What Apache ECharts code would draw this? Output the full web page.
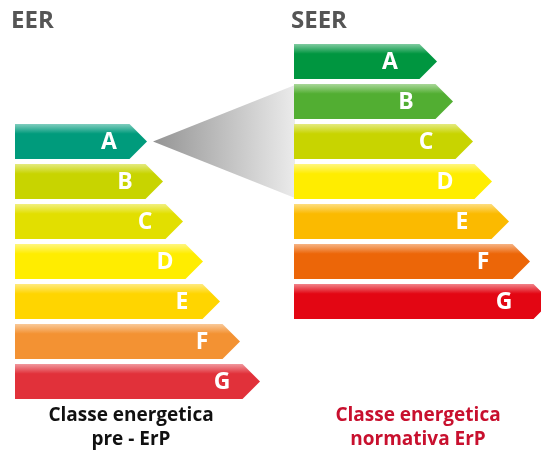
<!DOCTYPE html>
<html><head><meta charset="utf-8">
<script src="https://cdn.jsdelivr.net/npm/echarts@6/dist/echarts.min.js"></script>
<style>html,body{margin:0;padding:0;background:#fff}#c{width:541px;height:452px}</style>
</head><body><div id="c"></div>
<script>
var classes = ['A','B','C','D','E','F','G'];
var eerValues = [132, 148, 168, 188, 205, 225, 245];
var seerValues = [143, 159, 179, 198, 215, 236, 257];
var eerColors = ['#009b7c','#c8d400','#e2df00','#ffed00','#ffd500','#f39233','#e1313a'];
var seerColors = ['#009640','#52ae32','#c8d400','#ffed00','#fbba00','#ec6608','#e30613'];
var leftTitle = 'EER', rightTitle = 'SEER';
var leftCaption = ['Classe energetica','pre - ErP'];
var rightCaption = ['Classe energetica','normativa ErP'];

function mix(hex, t){
  var r=parseInt(hex.substr(1,2),16), g=parseInt(hex.substr(3,2),16), b=parseInt(hex.substr(5,2),16);
  r=Math.round(r+(255-r)*t); g=Math.round(g+(255-g)*t); b=Math.round(b+(255-b)*t);
  return 'rgb('+r+','+g+','+b+')';
}
function makeRender(colors, labelOffset){
  return function(params, api){
    var v = api.value(0), idx = api.value(1);
    var s = api.coord([0, idx]), e = api.coord([v, idx]);
    var h = api.size([0,1])[1]*0.875, half = h/2, cy = s[1];
    var be = e[0]-half;
    var c = colors[idx];
    return {type:'group', children:[
      {type:'polygon', shape:{points:[[s[0],cy-half],[be,cy-half],[e[0],cy],[be,cy+half],[s[0],cy+half]]},
       style:{fill:new echarts.graphic.LinearGradient(0,0,0,1,[{offset:0,color:mix(c,0.5)},{offset:0.28,color:c},{offset:1,color:c}])}},
      {type:'text', style:{text:classes[idx], x:e[0]-labelOffset, y:cy+1, textAlign:'center', textVerticalAlign:'middle',
        fill:'#fff', font:'bold 23px "Open Sans"'}}
    ]};
  };
}
var chart = echarts.init(document.getElementById('c'));
function cat(){return {type:'category', data:classes, inverse:true, show:false};}
chart.setOption({
  animation:false,
  grid:[{left:15, top:121.5, width:240, height:280},{left:294, top:41.5, width:240, height:280}],
  xAxis:[{type:'value', min:0, max:240, show:false, gridIndex:0},{type:'value', min:0, max:240, show:false, gridIndex:1}],
  yAxis:[Object.assign(cat(),{gridIndex:0}), Object.assign(cat(),{gridIndex:1})],
  series:[
    {type:'custom', xAxisIndex:0, yAxisIndex:0, clip:false, z:3, encode:{x:0,y:1},
     data:eerValues.map(function(v,i){return [v,i];}), renderItem:makeRender(eerColors,38)},
    {type:'custom', xAxisIndex:1, yAxisIndex:1, clip:false, z:3, encode:{x:0,y:1},
     data:seerValues.map(function(v,i){return [v,i];}), renderItem:makeRender(seerColors,47)}
  ]
});
var apex = chart.convertToPixel({gridIndex:0},[eerValues[0],0]);
var rTop = chart.convertToPixel({gridIndex:1},[0,1]);
var rBot = chart.convertToPixel({gridIndex:1},[0,3]);
var half = 17.5;
var capFont = 'bold 19px "Open Sans"';
chart.setOption({graphic:[
  {type:'polygon', z:1, shape:{points:[[apex[0]+6,apex[1]],[rTop[0]+1,rTop[1]-half+1],[rBot[0]+1,rBot[1]+half-1]]},
   style:{fill:new echarts.graphic.LinearGradient(0,0,1,0,[{offset:0,color:'#949494'},{offset:1,color:'#ebebeb'}])}},
  {type:'text', style:{text:leftTitle, x:11, y:21, textVerticalAlign:'middle', fill:'#555', font:'bold 24px "Open Sans"'}},
  {type:'text', style:{text:rightTitle, x:291, y:21, textVerticalAlign:'middle', fill:'#555', font:'bold 24px "Open Sans"'}},
  {type:'text', style:{text:leftCaption[0], x:131, y:416, textAlign:'center', textVerticalAlign:'middle', fill:'#111', font:capFont}},
  {type:'text', style:{text:leftCaption[1], x:131, y:440, textAlign:'center', textVerticalAlign:'middle', fill:'#111', font:capFont}},
  {type:'text', style:{text:rightCaption[0], x:418, y:416, textAlign:'center', textVerticalAlign:'middle', fill:'#c8102e', font:capFont}},
  {type:'text', style:{text:rightCaption[1], x:418, y:440, textAlign:'center', textVerticalAlign:'middle', fill:'#c8102e', font:capFont}}
]});
</script></body></html>
